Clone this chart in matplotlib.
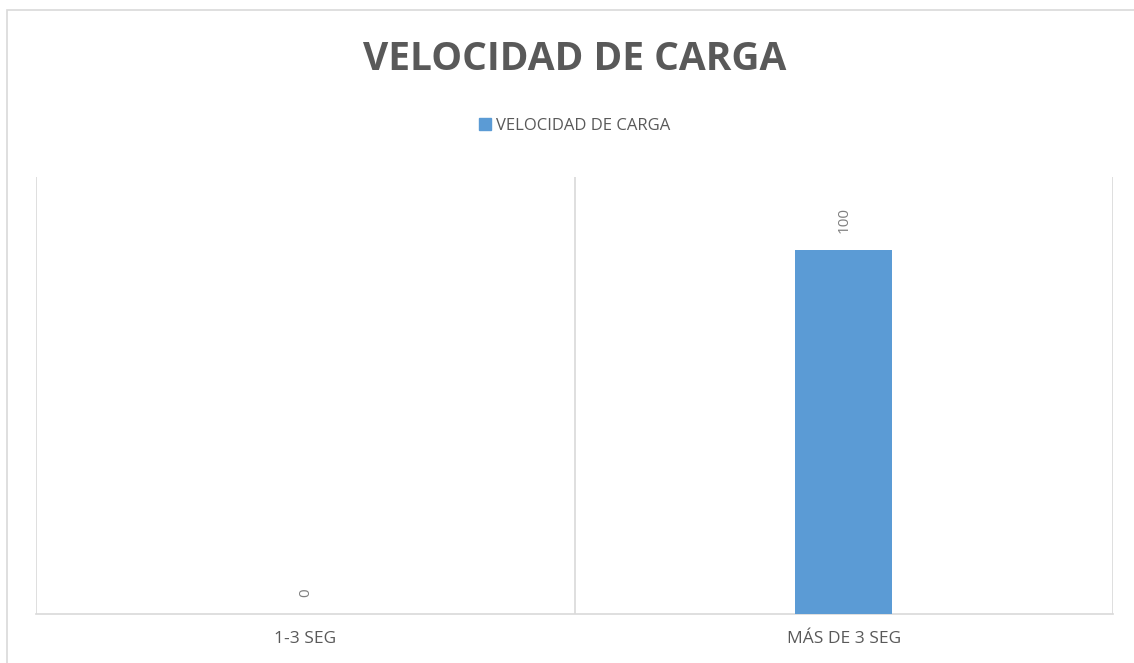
import matplotlib
matplotlib.use("Agg")
import matplotlib.pyplot as plt
from matplotlib.patches import Rectangle, Patch

categories = ["1-3 SEG", "MÁS DE 3 SEG"]
values = [0, 100]
series_name = "VELOCIDAD DE CARGA"
title = "VELOCIDAD DE CARGA"

W, H = 1134, 663
fig = plt.figure(figsize=(W / 100, H / 100), dpi=100)
plt.rcParams["font.family"] = ["Open Sans", "DejaVu Sans"]

# outer chart border (partly cut off at right/bottom)
fig.patches.append(Rectangle((7 / W, -0.1), 1.2, 1 - 10 / H + 0.1,
                             transform=fig.transFigure, fill=False,
                             edgecolor="#d9d9d9", linewidth=1.2))

ax = fig.add_axes([36 / W, 1 - 614 / H, (1113 - 36) / W, (614 - 177) / H])
x = list(range(len(categories)))
ax.bar(x, values, width=0.18, color="#5b9bd5", label=series_name, zorder=3)
ax.set_xlim(-0.5, len(categories) - 0.5)
ax.set_ylim(0, 120)

for spine in ["top", "left", "right"]:
    ax.spines[spine].set_visible(False)
ax.spines["bottom"].set_color("#d9d9d9")
ax.spines["bottom"].set_linewidth(1.2)
ax.set_yticks([])
ax.set_xticks(x)
ax.set_xticklabels(categories, fontsize=12.5, color="#595959")
ax.tick_params(axis="x", length=0, pad=12)

# vertical category separators
for b in [i - 0.5 for i in range(len(categories) + 1)]:
    ax.axvline(b, color="#d9d9d9", linewidth=1.2, zorder=1)

for xi, v in zip(x, values):
    ax.annotate(str(v), (xi, v), xytext=(0, 12), textcoords="offset points",
                rotation=90, ha="center", va="bottom", fontsize=11, color="#7f7f7f")

fig.text(0.507, 1 - 59 / H, title, ha="center", va="center", fontsize=28,
         fontweight="bold", color="#595959")

leg = fig.legend(handles=[Patch(color="#5b9bd5", label=series_name)],
                 loc="center", bbox_to_anchor=(0.507, 1 - 126 / H), frameon=False,
                 fontsize=12, handlelength=0.7, handleheight=0.7, handletextpad=0.3)
for t in leg.get_texts():
    t.set_color("#595959")

fig.savefig("out.png", dpi=100)
